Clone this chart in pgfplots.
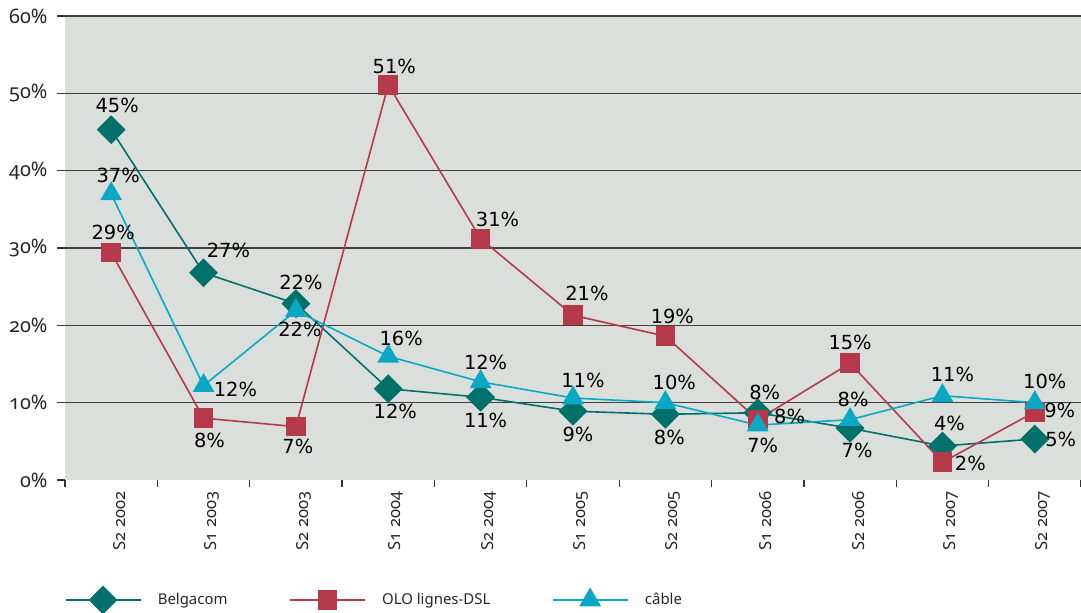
\documentclass[border=0pt]{standalone}
\usepackage{pgfplots}
\pgfplotsset{compat=1.18}
\usepackage{pgfplotstable}
\usepackage{fontspec}
\setmainfont{Noto Sans}[Numbers=OldStyle]
\newfontfamily\tfont{Noto Sans}[Numbers=OldStyle]
\newfontfamily\lblfont{DejaVu Sans}
\definecolor{belg}{HTML}{00706A}
\definecolor{olo}{HTML}{B5394A}
\definecolor{cab}{HTML}{0AA8C4}
\definecolor{bgcol}{HTML}{DADFDB}
\definecolor{gridc}{HTML}{404040}

\pgfplotstableread{
x y lab dx dy
0 45.3 45 6 24
1 26.8 27 25 22
2 22.8 22 5 21
3 11.8 12 7 -23
4 10.7 11 5 -23
5 8.9 9 5 -23
6 8.5 8 4 -23
7 8.7 8 7 20
8 6.7 7 7 -22
9 4.4 4 7 23
10 5.3 5 26 0
}\belgtab

\pgfplotstableread{
x y lab dx dy
0 29.4 29 2 20
1 8.0 8 6 -22
2 6.9 7 2 -20
3 51.1 51 6 18
4 31.2 31 17 19
5 21.3 21 14 22
6 18.6 19 7 20
7 7.8 8 32 3
8 15.1 15 0 21
9 2.3 2 28 -1
10 8.8 9 25 2
}\olotab

\pgfplotstableread{
x y lab dx dy
0 37.0 37 7 19
1 12.2 12 32 -4
2 21.9 22 4 -19
3 16.0 16 13 18
4 12.7 12 5 19
5 10.6 11 10 18
6 10.0 10 9 20
7 7.1 7 5 -20
8 7.8 8 3 20
9 10.9 11 10 21
10 10.0 10 10 21
}\cabtab

\pgfplotsset{
  lbls/.style={
    nodes near coords={\pgfplotspointmeta\%},
    point meta=explicit symbolic,
    visualization depends on={\thisrow{dx} \as \dx},
    visualization depends on={\thisrow{dy} \as \dy},
    nodes near coords style={anchor=center, xshift=\dx, yshift=\dy,
      font=\lblfont\fontsize{19.5}{23}\selectfont, text=black, inner sep=0pt},
  }
}

\begin{document}
\begin{tikzpicture}
\begin{axis}[name=ax,
  width=1016bp, height=464bp, scale only axis,
  xmin=-0.5, xmax=10.5, ymin=0, ymax=60,
  clip=false,
  axis line style={draw=none},
  axis background/.style={fill=bgcol},
  /pgf/number format/assume math mode=true,
  xtick={0,...,10},
  xticklabels={S2 2002,S1 2003,S2 2003,S1 2004,S2 2004,S1 2005,S2 2005,S1 2006,S2 2006,S1 2007,S2 2007},
  x tick label style={rotate=90, anchor=east, font=\tfont\fontsize{16.6}{19}\selectfont, text=black!85, yshift=-8bp},
  major x tick style={draw=none},
  minor xtick={-0.5,0.5,...,10.5},
  minor tick length=7bp,
  minor x tick style={black!80, line width=1.2bp},
  xtick pos=bottom, ytick pos=left,
  tick align=outside,
  ytick={10,20,...,60},
  extra y ticks={0},
  extra y tick style={grid=none},
  yticklabel={\pgfmathprintnumber{\tick}\%},
  y tick label style={font=\tfont\fontsize{20}{23}\selectfont, text=black!85, xshift=-6bp},
  major tick length=8bp,
  y tick style={black!80, line width=1.2bp},
  ymajorgrids,
  major grid style={gridc, line width=1.2bp},
  legend columns=3,
  legend style={at={(0,-0.2586)}, anchor=west, draw=none, fill=none,
    font=\tfont\fontsize{15}{18}\selectfont, inner sep=0pt, text=black!85,
    /tikz/every odd column/.append style={column sep=14bp},
    /tikz/every even column/.append style={column sep=60bp}},
  legend image code/.code={\draw[mark repeat=2,mark phase=2,#1] plot coordinates {(0bp,0bp)(37bp,0bp)(75bp,0bp)};},
  every axis plot/.append style={line width=1.6bp},
]
\addplot[color=belg, mark=square*, mark size=9.4bp, mark options={rotate=45, solid, fill=belg}, lbls] table[x=x, y=y, meta=lab] {\belgtab};
\addlegendentry{Belgacom}
\addplot[color=olo, mark=square*, mark size=9bp, mark options={solid, fill=olo}, lbls] table[x=x, y=y, meta=lab] {\olotab};
\addlegendentry{OLO lignes-DSL}
\addplot[color=cab, mark=triangle*, mark size=11bp, mark options={solid, fill=cab}, lbls] table[x=x, y=y, meta=lab] {\cabtab};
\addlegendentry{câble}
\end{axis}
\pgfresetboundingbox
\path[use as bounding box] ([xshift=-65bp,yshift=-132bp]ax.south west) rectangle ([yshift=16bp]ax.north east);
\end{tikzpicture}
\end{document}
